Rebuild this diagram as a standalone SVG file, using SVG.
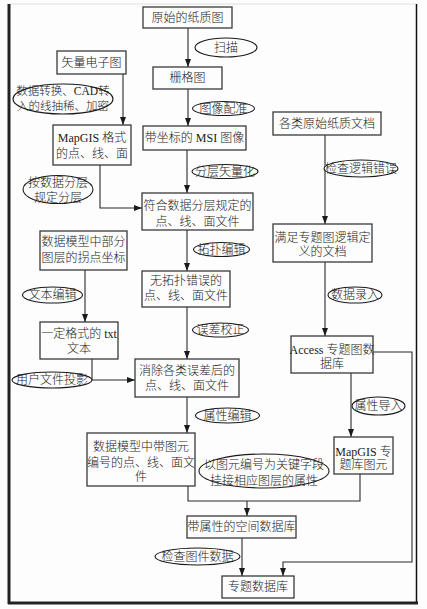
<svg xmlns="http://www.w3.org/2000/svg" width="427" height="609" viewBox="0 0 427 609">
<style>
.bg{fill:#fdfdfd}
.box{fill:#fdfdfd;stroke:#3a3a3a;stroke-width:1.3}
.ell{fill:#fdfdfd;stroke:#1a1a1a;stroke-width:1.1}
.t{font-family:"Liberation Serif","Noto Sans CJK SC",serif;font-size:12px;font-weight:300;fill:#1a1a1a;text-anchor:middle;dominant-baseline:central}
.c{fill:none;stroke:#2a2a2a;stroke-width:1.1}
</style>
<defs>
<marker id="ah" markerUnits="userSpaceOnUse" markerWidth="8" markerHeight="8" viewBox="0 0 8 8" refX="8" refY="4" orient="auto">
<path d="M0,1 L8,4 L0,7 Z" fill="#1a1a1a"/>
</marker>
</defs>
<rect class="bg" x="0" y="0" width="427" height="609"/>
<g id="frame">
<line x1="9" y1="4" x2="417" y2="4" stroke="#e0e0e0" stroke-width="1"/>
<line x1="9" y1="4" x2="9" y2="604" stroke="#222" stroke-width="3"/>
<line x1="416.5" y1="4" x2="416.5" y2="604" stroke="#111" stroke-width="1.5"/>
<line x1="8" y1="603" x2="418" y2="603" stroke="#222" stroke-width="3"/>
</g>
<g id="connectors">
<path class="c" d="M188,28 V67" marker-end="url(#ah)"/>
<path class="c" d="M188,89 V126" marker-end="url(#ah)"/>
<path class="c" d="M187,150 V193" marker-end="url(#ah)"/>
<path class="c" d="M123,74 V125" marker-end="url(#ah)"/>
<path class="c" d="M100,165 V208 H142" marker-end="url(#ah)"/>
<path class="c" d="M325,135 V224" marker-end="url(#ah)"/>
<path class="c" d="M187,230 V271" marker-end="url(#ah)"/>
<path class="c" d="M85,270 V322" marker-end="url(#ah)"/>
<path class="c" d="M187,307 V359" marker-end="url(#ah)"/>
<path class="c" d="M92,359 V380 H135" marker-end="url(#ah)"/>
<path class="c" d="M325,262 V336" marker-end="url(#ah)"/>
<path class="c" d="M373,352 H412 V562 H283 V576" marker-end="url(#ah)"/>
<path class="c" d="M351,373 V437" marker-end="url(#ah)"/>
<path class="c" d="M187,397 V433" marker-end="url(#ah)"/>
<path class="c" d="M188,486 V501 H360 V474"/>
<path class="c" d="M247,501 V516" marker-end="url(#ah)"/>
<path class="c" d="M242,538 V576" marker-end="url(#ah)"/>
</g>
<g id="n1"><rect class="box" x="143" y="7" width="89" height="21"/><text class="t" x="187.5" y="17.5">原始的纸质图</text></g>
<g id="e1"><ellipse class="ell" cx="226" cy="47.5" rx="31" ry="9.5"/><text class="t" x="226" y="47.5">扫描</text></g>
<g id="n2"><rect class="box" x="153" y="67" width="69" height="22"/><text class="t" x="187.5" y="78">栅格图</text></g>
<g id="e2"><ellipse class="ell" cx="223.5" cy="108.5" rx="31" ry="7"/><text class="t" x="223.5" y="108.5">图像配准</text></g>
<g id="n3"><rect class="box" x="143" y="126" width="103" height="24"/><text class="t" x="194.5" y="138">带坐标的 MSI 图像</text></g>
<g id="n4"><rect class="box" x="57" y="51" width="69" height="23"/><text class="t" x="91.5" y="62.5">矢量电子图</text></g>
<g id="e3"><ellipse class="ell" cx="63" cy="99" rx="50" ry="15"/><text class="t" x="63" y="91" style="font-size:11.5px">数据转换、CAD转</text><text class="t" x="63" y="106" style="font-size:11.5px">入的线抽稀、加密</text></g>
<g id="n5"><rect class="box" x="53" y="125" width="78" height="40"/><text class="t" x="92" y="137.5">MapGIS 格式</text><text class="t" x="92" y="153.5">的点、线、面</text></g>
<g id="e4"><ellipse class="ell" cx="58" cy="189.5" rx="35" ry="14"/><text class="t" x="58" y="183">按数据分层</text><text class="t" x="58" y="197.5">规定分层</text></g>
<g id="e5"><ellipse class="ell" cx="225" cy="171.5" rx="33" ry="7"/><text class="t" x="225" y="171.5">分层矢量化</text></g>
<g id="n6"><rect class="box" x="142" y="193" width="111" height="37"/><text class="t" x="197.5" y="206">符合数据分层规定的</text><text class="t" x="197.5" y="221.5">点、线、面文件</text></g>
<g id="n7"><rect class="box" x="273" y="112" width="108" height="23"/><text class="t" x="327" y="123.5">各类原始纸质文档</text></g>
<g id="e6"><ellipse class="ell" cx="361" cy="168.5" rx="37" ry="8.5"/><text class="t" x="361" y="168.5">检查逻辑错误</text></g>
<g id="n8"><rect class="box" x="273" y="224" width="99" height="38"/><text class="t" x="322.5" y="237.5">满足专题图逻辑定</text><text class="t" x="322.5" y="252">义的文档</text></g>
<g id="n9"><rect class="box" x="40" y="231" width="87" height="39"/><text class="t" x="83.5" y="241.5">数据模型中部分</text><text class="t" x="83.5" y="257.5">图层的拐点坐标</text></g>
<g id="e7"><ellipse class="ell" cx="221.5" cy="249.5" rx="28" ry="7"/><text class="t" x="221.5" y="249.5">拓扑编辑</text></g>
<g id="n10"><rect class="box" x="142" y="271" width="88" height="36"/><text class="t" x="186" y="281">无拓扑错误的</text><text class="t" x="186" y="296">点、线、面文件</text></g>
<g id="e8"><ellipse class="ell" cx="52.5" cy="295" rx="30" ry="8"/><text class="t" x="52.5" y="295">文本编辑</text></g>
<g id="e9"><ellipse class="ell" cx="355" cy="295" rx="27" ry="8"/><text class="t" x="355" y="295">数据录入</text></g>
<g id="n11"><rect class="box" x="40" y="322" width="78" height="37"/><text class="t" x="79" y="333.5">一定格式的 txt</text><text class="t" x="79" y="348.5">文本</text></g>
<g id="e10"><ellipse class="ell" cx="52" cy="380" rx="40" ry="8"/><text class="t" x="52" y="380">用户文件投影</text></g>
<g id="e11"><ellipse class="ell" cx="220.5" cy="330" rx="28" ry="7"/><text class="t" x="220.5" y="330">误差校正</text></g>
<g id="n12"><rect class="box" x="135" y="359" width="104" height="38"/><text class="t" x="187" y="370.5">消除各类误差后的</text><text class="t" x="187" y="385.5">点、线、面文件</text></g>
<g id="n13"><rect class="box" x="291" y="336" width="82" height="37"/><text class="t" x="332" y="349.5">Access 专题图数</text><text class="t" x="332" y="363.5">据库</text></g>
<g id="e12"><ellipse class="ell" cx="378.5" cy="406" rx="26.5" ry="9"/><text class="t" x="378.5" y="406">属性导入</text></g>
<g id="e13"><ellipse class="ell" cx="227.5" cy="415.5" rx="32" ry="7.5"/><text class="t" x="227.5" y="415.5">属性编辑</text></g>
<g id="n14"><rect class="box" x="87" y="433" width="108" height="53"/><text class="t" x="141" y="447">数据模型中带图元</text><text class="t" x="141" y="462.5">编号的点、线、面文</text><text class="t" x="141" y="477">件</text></g>
<g id="n15"><rect class="box" x="334" y="437" width="59" height="37"/><text class="t" x="363.5" y="451.5">MapGIS 专</text><text class="t" x="363.5" y="465">题库图元</text></g>
<g id="e14"><ellipse class="ell" cx="264" cy="471" rx="65" ry="17"/><text class="t" x="264" y="465">以图元编号为关键字段</text><text class="t" x="264" y="480.5">挂接相应图层的属性</text></g>
<g id="n16"><rect class="box" x="187" y="516" width="109" height="22"/><text class="t" x="241.5" y="527">带属性的空间数据库</text></g>
<g id="e15"><ellipse class="ell" cx="197.5" cy="556.5" rx="42.5" ry="8.5"/><text class="t" x="197.5" y="556.5">检查图件数据</text></g>
<g id="n17"><rect class="box" x="222" y="576" width="72" height="22"/><text class="t" x="258" y="587">专题数据库</text></g>
</svg>
